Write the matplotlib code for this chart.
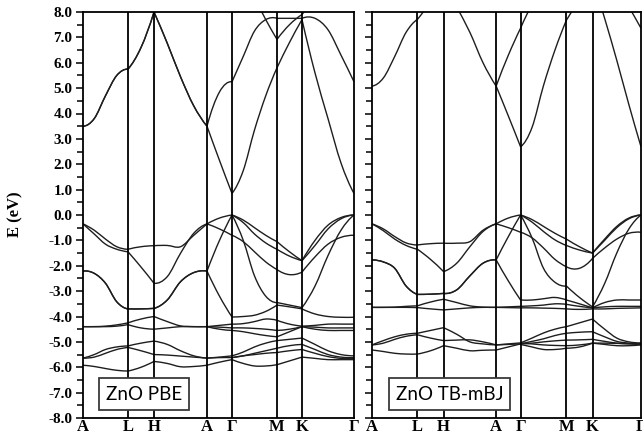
import numpy as np
import matplotlib
matplotlib.use("Agg")
import matplotlib.pyplot as plt
from matplotlib.path import Path
from matplotlib.patches import PathPatch
from matplotlib.ticker import MultipleLocator, FormatStrFormatter

plt.rcParams["axes.unicode_minus"] = False
nan = np.nan

# high-symmetry path (A-L-H-A-G-M-K-G), positions in path units
kpath_labels = ["A", "L", "H", "A", "Γ", "M", "K", "Γ"]
pbe_kpos = [0, 45, 71, 124, 149, 194, 219, 271]
mbj_kpos = [0, 45.3, 71.3, 123.7, 148, 193.7, 219.7, 268]
seg_steps = [4, 2, 4, 2, 4, 2, 4]   # sampled intervals per segment

# ---- ZnO PBE bands (eV), 23 samples along the path ----
pbe_c1 = [3.50, 3.80, 4.70, 5.50, 5.75, 6.60, 8.00, 6.77, 5.45, 4.30, 3.50, 2.15, 0.85,
          1.75, 3.35, 4.70, 5.80, 6.80, 7.70, 5.60, 3.80, 2.05, 0.85]
pbe_c2 = [3.50, 3.80, 4.70, 5.50, 5.75, 6.60, 8.00, 6.77, 5.45, 4.30, 3.50, 4.85, 5.25,
          6.25, 7.25, 7.70, 7.75, 7.75, 7.75, 7.75, 7.30, 6.30, 5.25]
pbe_c3 = [nan] * 12 + [10.0, 9.3, 8.55, 7.70, 6.92, 7.50, 7.90, 8.60, 9.40, 10.0, 10.5]
pbe_v1 = [-0.35, -0.60, -0.95, -1.25, -1.35, -1.25, -1.21, -1.20, -1.25, -0.80, -0.35, -0.12, 0.00,
          -0.20, -0.50, -0.80, -1.05, -1.45, -1.80, -1.00, -0.40, -0.10, 0.00]
pbe_v2 = [-0.35, -0.75, -1.15, -1.35, -1.45, -2.05, -2.69, -2.43, -1.51, -0.72, -0.35, -0.55, -0.80,
          -1.05, -1.45, -1.85, -2.15, -2.35, -2.25, -1.65, -1.15, -0.88, -0.80]
pbe_v3 = [-2.21, -2.30, -2.69, -3.42, -3.70, -3.70, -3.68, -3.35, -2.63, -2.27, -2.21, -1.00, 0.00,
          -0.30, -0.75, -1.10, -1.35, -1.62, -1.80, -1.20, -0.55, -0.15, 0.00]
pbe_v3b = [nan] * 12 + [0.00, -1.00, -2.40, -3.20, -3.45, -3.55, -3.65, -2.80, -1.60, -0.60, 0.00]
pbe_v4 = [-2.21, -2.30, -2.69, -3.42, -3.70, -3.70, -3.68, -3.35, -2.63, -2.27, -2.21, -3.20, -4.02,
          -4.00, -3.95, -3.80, -3.55, -3.62, -3.70, -3.90, -4.00, -4.03, -4.03]
pbe_v5 = [-4.40, -4.40, -4.38, -4.33, -4.25, -4.10, -4.00, -4.20, -4.37, -4.40, -4.40, -4.35, -4.30,
          -4.28, -4.20, -4.10, -4.15, -4.30, -4.38, -4.35, -4.30, -4.30, -4.30]
pbe_v6 = [-4.40, -4.40, -4.40, -4.38, -4.32, -4.45, -4.50, -4.45, -4.40, -4.40, -4.40, -4.42, -4.45,
          -4.45, -4.47, -4.50, -4.55, -4.50, -4.40, -4.42, -4.45, -4.45, -4.45]
pbe_d1 = [nan] * 10 + [-4.40, -4.50, -4.55, -4.60, -4.68, -4.75, -4.80, -4.60, -4.40,
                       -4.50, -4.55, -4.55, -4.55]
pbe_d2 = [-5.64, -5.50, -5.30, -5.20, -5.16, -5.05, -4.97, -5.10, -5.35, -5.55, -5.64, -5.60, -5.55,
          -5.40, -5.20, -5.05, -4.95, -4.90, -4.85, -5.10, -5.35, -5.50, -5.55]
pbe_d3 = [-5.64, -5.60, -5.45, -5.30, -5.22, -5.35, -5.50, -5.52, -5.56, -5.60, -5.64, -5.62, -5.62,
          -5.55, -5.45, -5.35, -5.25, -5.15, -5.10, -5.30, -5.50, -5.60, -5.62]
pbe_d4 = [-5.92, -5.97, -6.05, -6.12, -6.15, -6.00, -5.77, -5.85, -5.98, -5.97, -5.92, -5.80, -5.70,
          -5.85, -5.95, -5.95, -5.90, -5.75, -5.60, -5.65, -5.70, -5.70, -5.70]
pbe_d5 = [nan] * 12 + [-5.62, -5.55, -5.50, -5.45, -5.42, -5.35, -5.30, -5.45, -5.58, -5.65, -5.66]

# ---- ZnO TB-mBJ bands (eV) ----
mbj_c1 = [5.08, 5.40, 6.25, 7.20, 7.71, 8.40, 9.20, 8.20, 7.20, 6.00, 5.08, 3.90, 2.69,
          3.45, 5.10, 6.50, 7.68, 8.50, 9.30, 7.75, 6.10, 4.35, 2.69]
mbj_c2 = [nan] * 10 + [5.08, 6.30, 7.36, 8.30, 9.00, 9.50, 9.80, 9.90, 9.90, 9.60, 9.00, 8.20, 7.36]
mbj_v1 = [-0.35, -0.55, -0.85, -1.10, -1.18, -1.13, -1.11, -1.11, -1.05, -0.60, -0.35, -0.12, 0.00,
          -0.18, -0.45, -0.72, -0.95, -1.25, -1.50, -0.95, -0.45, -0.12, 0.00]
mbj_v2 = [-0.35, -0.62, -0.95, -1.20, -1.35, -1.75, -2.23, -1.90, -1.25, -0.65, -0.35, -0.50, -0.68,
          -0.90, -1.30, -1.75, -2.04, -2.10, -1.71, -1.30, -0.95, -0.72, -0.68]
mbj_v3 = [-1.77, -1.85, -2.10, -2.80, -3.13, -3.12, -3.09, -2.95, -2.40, -1.90, -1.77, -0.85, 0.00,
          -0.28, -0.65, -0.98, -1.20, -1.38, -1.50, -1.00, -0.50, -0.15, 0.00]
mbj_v3b = [nan] * 12 + [0.00, -0.90, -2.10, -2.65, -2.80, -3.25, -3.62, -2.70, -1.50, -0.55, 0.00]
mbj_v4 = [-1.77, -1.85, -2.10, -2.80, -3.13, -3.12, -3.09, -2.95, -2.40, -1.90, -1.77, -2.60, -3.35,
          -3.35, -3.30, -3.25, -3.35, -3.50, -3.66, -3.45, -3.35, -3.35, -3.35]
mbj_v5 = [-3.64, -3.64, -3.63, -3.60, -3.58, -3.43, -3.32, -3.45, -3.58, -3.63, -3.64, -3.62, -3.60,
          -3.58, -3.55, -3.50, -3.52, -3.60, -3.66, -3.62, -3.60, -3.60, -3.60]
mbj_v6 = [-3.64, -3.64, -3.64, -3.64, -3.65, -3.70, -3.74, -3.70, -3.66, -3.64, -3.64, -3.65, -3.66,
          -3.66, -3.67, -3.68, -3.70, -3.72, -3.70, -3.70, -3.68, -3.67, -3.66]
mbj_d1 = [-5.12, -4.95, -4.80, -4.70, -4.66, -4.55, -4.44, -4.70, -5.00, -5.08, -5.12, -5.08, -5.04,
          -4.85, -4.65, -4.50, -4.40, -4.25, -4.10, -4.50, -4.85, -5.00, -5.04]
mbj_d2 = [-5.12, -5.05, -4.90, -4.78, -4.72, -4.85, -4.95, -4.93, -4.92, -5.00, -5.12, -5.10, -5.08,
          -4.98, -4.88, -4.75, -4.66, -4.62, -4.60, -4.80, -4.98, -5.05, -5.08]
mbj_d3 = [-5.32, -5.38, -5.45, -5.48, -5.48, -5.35, -5.15, -5.25, -5.35, -5.33, -5.32, -5.20, -5.08,
          -5.05, -5.00, -4.96, -4.93, -4.92, -4.90, -4.98, -5.05, -5.08, -5.10]
mbj_d4 = [nan] * 12 + [-5.10, -5.20, -5.30, -5.30, -5.25, -5.20, -5.05, -5.10, -5.15, -5.15, -5.12]
mbj_d5 = [nan] * 12 + [-5.05, -5.08, -5.12, -5.14, -5.15, -5.12, -5.05, -5.05, -5.06, -5.07, -5.08]

pbe_bands = [pbe_c1, pbe_c2, pbe_c3, pbe_v1, pbe_v2, pbe_v3, pbe_v3b, pbe_v4, pbe_v5,
             pbe_v6, pbe_d1, pbe_d2, pbe_d3, pbe_d4, pbe_d5]
mbj_bands = [mbj_c1, mbj_c2, mbj_v1, mbj_v2, mbj_v3, mbj_v3b, mbj_v4, mbj_v5, mbj_v6,
             mbj_d1, mbj_d2, mbj_d3, mbj_d4, mbj_d5]


def sample_k(kpos):
    ks = [kpos[0]]
    for i, n in enumerate(seg_steps):
        for j in range(1, n + 1):
            ks.append(kpos[i] + (kpos[i + 1] - kpos[i]) * j / n)
    return ks


def segment_path(xs, ys):
    # smooth curve through the samples of one segment (cubic Bezier pieces)
    n = len(xs)
    pts = np.column_stack([xs, ys])
    tan = np.zeros_like(pts)
    for i in range(1, n - 1):
        tan[i] = (pts[i + 1] - pts[i - 1]) / 2
    if n > 2:
        tan[0] = 2 * (pts[1] - pts[0]) - tan[1]
        tan[-1] = 2 * (pts[-1] - pts[-2]) - tan[-2]
    else:
        tan[0] = tan[-1] = pts[1] - pts[0]
    verts = [pts[0]]
    codes = [Path.MOVETO]
    for i in range(n - 1):
        verts += [pts[i] + tan[i] / 3, pts[i + 1] - tan[i + 1] / 3, pts[i + 1]]
        codes += [Path.CURVE4] * 3
    return Path(verts, codes)


def draw_panel(ax, kpos, bands):
    ks = sample_k(kpos)
    starts = [0]
    for n in seg_steps:
        starts.append(starts[-1] + n)
    for band in bands:
        for s in range(len(seg_steps)):
            i0, i1 = starts[s], starts[s + 1]
            ys = band[i0:i1 + 1]
            if np.any(np.isnan(ys)):
                continue
            ax.add_patch(PathPatch(segment_path(ks[i0:i1 + 1], ys), fill=False,
                                   edgecolor="#1e1e1e", lw=1.0))
    for x in kpos[1:-1]:
        ax.axvline(x, color="black", lw=1.3)
    ax.set_xlim(kpos[0], kpos[-1])
    ax.set_ylim(-8, 8)
    ax.set_xticks(kpos)
    ax.set_xticklabels(kpath_labels, fontfamily="Liberation Serif", fontweight="bold", fontsize=12)
    ax.tick_params(axis="x", length=0, pad=1.0)
    ax.yaxis.set_major_locator(MultipleLocator(1))
    ax.yaxis.set_minor_locator(MultipleLocator(0.5))
    ax.yaxis.set_major_formatter(FormatStrFormatter("%.1f"))
    ax.tick_params(axis="y", which="major", direction="out", length=5, width=1.1, pad=2.5)
    ax.tick_params(axis="y", which="minor", direction="out", length=4, width=1.1)
    for sp in ax.spines.values():
        sp.set_linewidth(1.3)


fig = plt.figure(figsize=(6.43, 4.38), dpi=100)
ax1 = fig.add_axes([83 / 643, 20 / 438, 271 / 643, 406 / 438])
ax2 = fig.add_axes([372 / 643, 20 / 438, 269 / 643, 406 / 438])

draw_panel(ax1, pbe_kpos, pbe_bands)
draw_panel(ax2, mbj_kpos, mbj_bands)

for lab in ax1.get_yticklabels():
    lab.set_fontfamily("Liberation Serif")
    lab.set_fontweight("bold")
    lab.set_fontsize(11)
ax2.tick_params(axis="y", labelleft=False)

box = dict(boxstyle="square,pad=0.38", facecolor="white", edgecolor="#3a3a3a", linewidth=1.3)
ax1.text(0.225, 0.059, "ZnO PBE", transform=ax1.transAxes, ha="center", va="center",
         fontfamily="Lato", fontsize=13.5, bbox=box, zorder=5)
ax2.text(0.288, 0.059, "ZnO TB-mBJ", transform=ax2.transAxes, ha="center", va="center",
         fontfamily="Lato", fontsize=13.5, bbox=box, zorder=5)

fig.text(15 / 643, 1 - 214 / 438, "E (eV)", rotation=90, ha="center", va="center",
         fontfamily="Liberation Serif", fontweight="bold", fontsize=12)

fig.savefig("out.png", dpi=100)
